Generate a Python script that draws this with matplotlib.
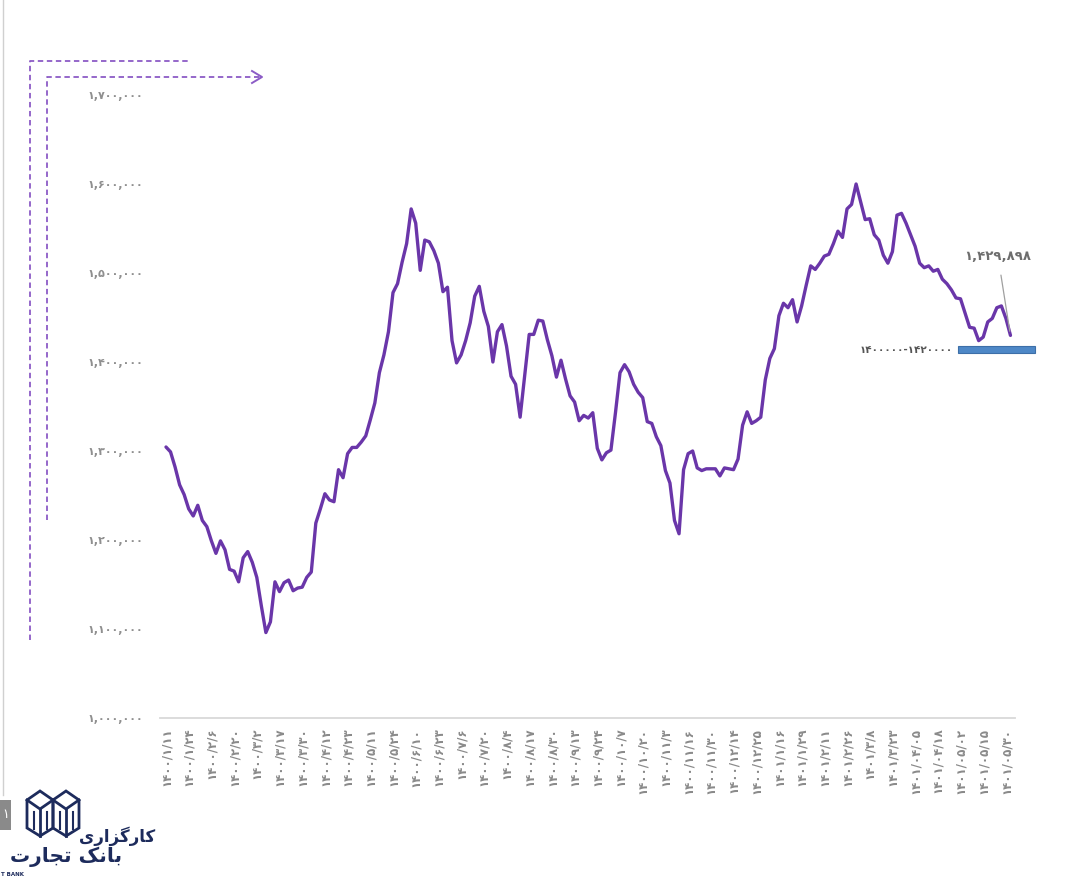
import matplotlib
matplotlib.use("Agg")
import matplotlib.pyplot as plt
import numpy as np
from matplotlib.lines import Line2D
from matplotlib.patches import Rectangle, Polygon

# ---------------- data ----------------
tick_dates = ["1400/1/11", "1400/1/24", "1400/2/6", "1400/2/20", "1400/3/2", "1400/3/17",
              "1400/3/30", "1400/4/12", "1400/4/23", "1400/5/11", "1400/5/24", "1400/6/10",
              "1400/6/23", "1400/7/6", "1400/7/20", "1400/8/4", "1400/8/17", "1400/8/30",
              "1400/9/13", "1400/9/24", "1400/10/7", "1400/10/20", "1400/11/3", "1400/11/16",
              "1400/11/30", "1400/12/14", "1400/12/25", "1401/1/16", "1401/1/29", "1401/2/11",
              "1401/2/26", "1401/3/8", "1401/3/23", "1401/04/05", "1401/04/18", "1401/05/02",
              "1401/05/15", "1401/05/30"]

prices = [1304500, 1299000, 1282000, 1262000, 1251000, 1235000, 1227000, 1239000, 1222000, 1215000,
          1199000, 1185000, 1199000, 1189000, 1167000, 1165000, 1153000, 1180000, 1187000, 1175000,
          1158000, 1126000, 1096000, 1108000, 1153000, 1142000, 1152000, 1155000, 1143000, 1146000,
          1147000, 1158000, 1164000, 1219000, 1235000, 1252000, 1245000, 1243000, 1279000, 1270000,
          1297000, 1304000, 1304000, 1310000, 1317000, 1335000, 1354000, 1388000, 1408000, 1434000,
          1478000, 1488000, 1512000, 1533000, 1572000, 1556000, 1503000, 1537000, 1535000, 1525000,
          1511000, 1479000, 1484000, 1424000, 1399000, 1408000, 1424000, 1444000, 1474000, 1485000,
          1457000, 1440000, 1400000, 1434000, 1442000, 1418000, 1384000, 1375000, 1338000, 1384000,
          1431000, 1431000, 1447000, 1446000, 1425000, 1407000, 1383000, 1402000, 1381000, 1362000,
          1355000, 1334000, 1340000, 1337000, 1343000, 1303000, 1290000, 1298000, 1301000, 1343000,
          1388000, 1397000, 1389000, 1375000, 1366000, 1360000, 1333000, 1331000, 1316000, 1306000,
          1278000, 1264000, 1222000, 1207000, 1279000, 1297000, 1300000, 1281000, 1278000, 1280000,
          1280000, 1280000, 1272000, 1281000, 1280000, 1279000, 1291000, 1329000, 1344000, 1331000,
          1334000, 1338000, 1380000, 1404000, 1415000, 1452000, 1466000, 1461000, 1470000, 1445000,
          1463000, 1486000, 1508000, 1504000, 1511000, 1519000, 1521000, 1533000, 1547000, 1540000,
          1572000, 1577000, 1600000, 1580000, 1560000, 1561000, 1543000, 1537000, 1520000, 1511000,
          1524000, 1565000, 1567000, 1556000, 1543000, 1530000, 1511000, 1506000, 1508000, 1502000,
          1504000, 1493000, 1488000, 1481000, 1472000, 1471000, 1455000, 1439000, 1438000, 1424000,
          1428000, 1445000, 1449000, 1461000, 1463000, 1449000, 1429898]

y_ticks = [1000000, 1100000, 1200000, 1300000, 1400000, 1500000, 1600000, 1700000]
band_low, band_high = 1410000, 1418000
band_label = "1400000-1420000"
last_label = "1,429,898"
tick_step = 5

# ---------------- helpers ----------------
FA = str.maketrans("0123456789", "۰۱۲۳۴۵۶۷۸۹")
def fa(s):
    return s.translate(FA)

W, H = 1080, 882
def fx(x):
    return x / W
def fy(y):
    return 1 - y / H

plt.rcParams['font.family'] = ['DejaVu Sans']

fig = plt.figure(figsize=(10.8, 8.82), dpi=100)
fig.patch.set_facecolor("white")
ax = fig.add_axes([fx(160), fy(718), 855 / W, (718 - 95) / H])

x = np.arange(len(prices))
ax.plot(x, prices, color="#6a36a9", lw=2.4, solid_joinstyle="round", solid_capstyle="round")

ax.set_ylim(1000000, 1700000)
ax.set_xlim(-1.32, 187.0)

ax.set_yticks(y_ticks)
ax.set_yticklabels([fa(f"{v:,}") for v in y_ticks], color="#8f8f8f", fontsize=8, fontweight="bold")
tick_pos = np.arange(0, len(tick_dates) * tick_step, tick_step)
ax.set_xticks(tick_pos)
ax.set_xticklabels([fa(d) for d in tick_dates], rotation=90, color="#8a8a8a", fontsize=8.5,
                   fontweight="bold", va="top", ha="center")
ax.tick_params(axis="both", length=0)
ax.tick_params(axis="y", pad=12)
ax.tick_params(axis="x", pad=7)
for s in ["top", "right", "left"]:
    ax.spines[s].set_visible(False)
ax.spines["bottom"].set_color("#d9d9d9")
ax.spines["bottom"].set_linewidth(1.3)

# band rectangle + label
ax.add_patch(Rectangle((174.4, band_low), 17.0, band_high - band_low, facecolor="#4e88c7",
                       edgecolor="#3d6fa8", lw=0.8, clip_on=False, zorder=3))
ax.text(173.2, (band_low + band_high) / 2, fa(band_label), ha="right", va="center",
        fontsize=7.5, color="#555555", fontweight="bold")

# last value annotation
ax.annotate(fa(last_label), xy=(x[-1], prices[-1]), xytext=(-9, 57), textcoords="offset points",
            ha="center", va="center", fontsize=9.5, color="#6e6e6e", fontweight="bold",
            arrowprops=dict(arrowstyle="-", color="#a0a0a0", lw=0.9, shrinkA=7, shrinkB=3))

# ---------------- decorations ----------------
dash_col = "#8c5cc6"
def fline(xs, ys, **kw):
    fig.add_artist(Line2D([fx(v) for v in xs], [fy(v) for v in ys], **kw))

fline([30, 30, 188], [640, 61, 61], color=dash_col, lw=1.3, ls=(0, (3, 2)))
fline([47, 47, 260], [520, 77, 77], color=dash_col, lw=1.3, ls=(0, (3, 2)))
fline([252, 262, 252], [71, 77, 83], color=dash_col, lw=1.4)

# left page border
fline([3, 3], [0, 795], color="#d0d0d0", lw=1.0)

# page number box
fig.add_artist(Rectangle((fx(0), fy(830)), fx(11), 30 / H, facecolor="#8a8a8a", edgecolor="none"))
fig.text(fx(5.5), fy(815), "۱", ha="center", va="center", color="white", fontsize=9)

# logo icon
navy = "#1d2b5c"
for ox in (27, 53):
    pts = [(ox, 800), (ox + 13, 791), (ox + 26, 800), (ox + 26, 828), (ox + 13, 836), (ox, 828)]
    fig.add_artist(Polygon([(fx(a), fy(b)) for a, b in pts], closed=True, fill=False,
                           edgecolor=navy, lw=2.0))
    fline([ox, ox + 13, ox + 26], [800, 809, 800], color=navy, lw=2.0)
    fline([ox + 13, ox + 13], [809, 836], color=navy, lw=2.0)
    fline([ox + 6.5, ox + 6.5], [812, 829], color=navy, lw=1.5)
    fline([ox + 19.5, ox + 19.5], [812, 829], color=navy, lw=1.5)

# logo text (Persian, presentation forms in visual order)
fig.text(fx(117), fy(836), "\uFBFC\uFEAD\uFE8D\uFEB0\uFB94\uFEAD\uFE8E\uFB90", ha="center",
         va="center", color=navy, fontsize=12, fontweight="bold")
fig.text(fx(66), fy(857), "\uFE95\uFEAD\uFE8E\uFEA0\uFE97 \uFB8F\uFEE7\uFE8E\uFE91", ha="center",
         va="center", color=navy, fontsize=14.5, fontweight="bold")
fig.text(fx(1), fy(874), "T BANK", ha="left", va="center", color=navy, fontsize=4,
         fontweight="bold")

fig.savefig("out.png", dpi=100, facecolor="white")
